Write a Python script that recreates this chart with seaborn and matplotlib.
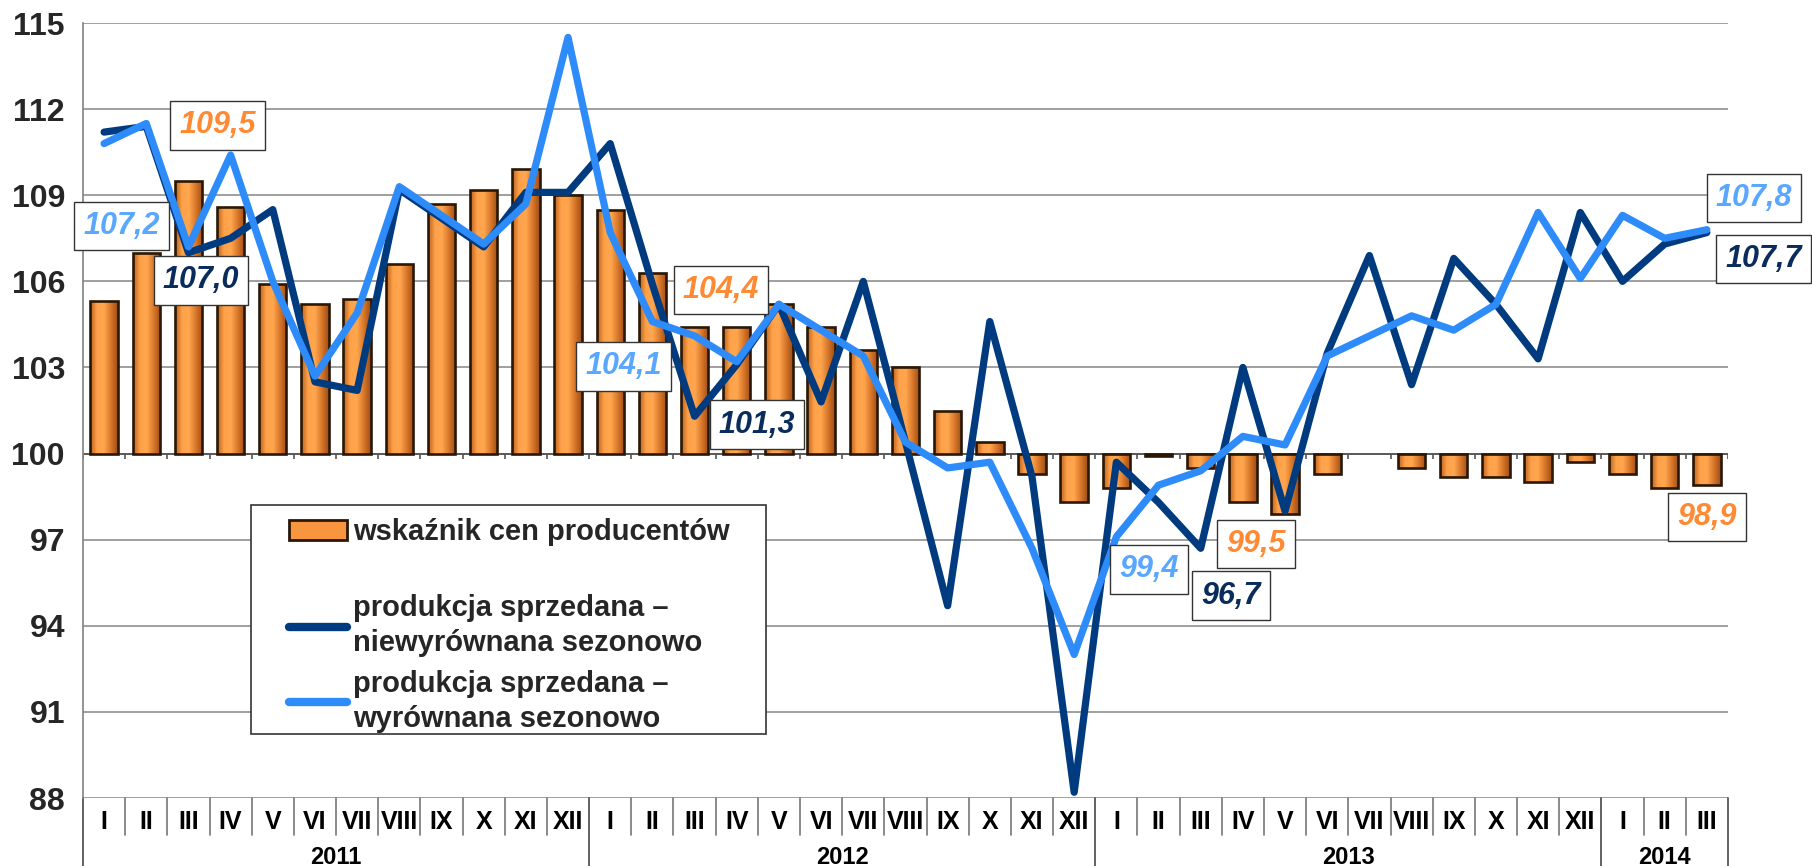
import numpy as np
import pandas as pd
import matplotlib
matplotlib.use("Agg")
import matplotlib.pyplot as plt
import seaborn as sns
from matplotlib.patches import Patch, Rectangle
from matplotlib.lines import Line2D
from matplotlib.colors import LinearSegmentedColormap
import matplotlib.transforms as mtransforms

# Month labels and years (2011 I - 2014 III)
months = ["I", "II", "III", "IV", "V", "VI", "VII", "VIII", "IX", "X", "XI", "XII"] * 3 + ["I", "II", "III"]
years = ["2011", "2012", "2013", "2014"]
year_lengths = [12, 12, 12, 3]

# Producer price index (bars, base 100)
ppi = [105.3, 107.0, 109.5, 108.6, 105.9, 105.2, 105.4, 106.6, 108.7, 109.2, 109.9, 109.0,
       108.5, 106.3, 104.4, 104.4, 105.2, 104.4, 103.6, 103.0, 101.5, 100.4, 99.3, 98.3,
       98.8, 99.9, 99.5, 98.3, 97.9, 99.3, 100.0, 99.5, 99.2, 99.2, 99.0, 99.7,
       99.3, 98.8, 98.9]

# Sold production - not seasonally adjusted
prod_nsa = [111.2, 111.4, 107.0, 107.5, 108.5, 102.5, 102.2, 109.2, 108.2, 107.2, 109.1, 109.1,
            110.8, 105.9, 101.3, 103.1, 105.2, 101.8, 106.0, 100.4, 94.7, 104.6, 99.2, 88.2,
            99.7, 98.3, 96.7, 103.0, 98.0, 103.5, 106.9, 102.4, 106.8, 105.2, 103.3, 108.4,
            106.0, 107.3, 107.7]

# Sold production - seasonally adjusted
prod_sa = [110.8, 111.5, 107.2, 110.4, 106.0, 102.7, 104.9, 109.3, 108.3, 107.3, 108.7, 114.5,
           107.7, 104.6, 104.1, 103.2, 105.2, 104.3, 103.4, 100.4, 99.5, 99.7, 96.7, 93.0,
           97.1, 98.9, 99.4, 100.6, 100.3, 103.4, 104.1, 104.8, 104.3, 105.2, 108.4, 106.1,
           108.3, 107.5, 107.8]

# Months that get a value label (each March)
label_idx = [2, 14, 26, 38]

orange = "#F7963F"
orange_txt = "#FF8A33"
navy = "#003B80"
navy_txt = "#0A2C5C"
light = "#2E8BFA"
light_txt = "#5AA7FF"

sns.set_style("white")
plt.rcParams["font.family"] = ["Liberation Sans", "DejaVu Sans"]
plt.rcParams["font.weight"] = "bold"

df = pd.DataFrame({
    "idx": np.arange(len(months)),
    "ppi": ppi,
    "ppi_dev": np.array(ppi) - 100,
    "nsa": prod_nsa,
    "sa": prod_sa,
})

fig = plt.figure(figsize=(18.12, 8.66), dpi=100)
ax = fig.add_axes([0.0458, 0.0785, 0.9078, 0.8949])

# Bars grow from the 100 line
sns.barplot(data=df, x="idx", y="ppi_dev", bottom=100, color=orange, saturation=1,
            width=0.65, edgecolor="#2a1705", linewidth=1.9, ax=ax, zorder=3)

# horizontal shading on the bars, a bit like the original 3D look
shade = LinearSegmentedColormap.from_list("shade", ["#B9601C", "#FFA24A", "#FFA64F", "#D9772A", "#9C4E14"])
grad = np.linspace(0, 1, 64).reshape(1, -1)
for p in list(ax.patches):
    x0, y0 = p.get_x(), p.get_y()
    w, h = p.get_width(), p.get_height()
    if abs(h) < 1e-9:
        p.set_linewidth(0)
        continue
    im = ax.imshow(grad, cmap=shade, aspect="auto", extent=[x0, x0 + w, min(y0, y0 + h), max(y0, y0 + h)],
                   zorder=2.9, interpolation="bilinear")
    im.set_clip_path(p)
    p.set_facecolor("none")

sns.lineplot(data=df, x="idx", y="nsa", color=navy, linewidth=5.2, ax=ax, zorder=4,
             solid_joinstyle="round", solid_capstyle="round")
sns.lineplot(data=df, x="idx", y="sa", color=light, linewidth=5.2, ax=ax, zorder=5,
             solid_joinstyle="round", solid_capstyle="round")

n = len(months)
ax.set_xlim(-0.5, n - 0.5)
ax.set_ylim(88, 115)
ax.set_yticks(np.arange(88, 116, 3))
ax.set_yticklabels([str(v) for v in range(88, 116, 3)], fontsize=23, fontweight="bold")
ax.tick_params(axis="y", length=6, width=1, color="#808080", pad=7)
ax.set_xticks([])
ax.set_xlabel("")
ax.set_ylabel("")
ax.yaxis.grid(True, color="#8f8f8f", linewidth=1.2, zorder=0)
ax.set_axisbelow(True)
for s in ["top", "right", "bottom"]:
    ax.spines[s].set_visible(False)
ax.spines["left"].set_color("#808080")
ax.spines["left"].set_linewidth(1.2)

# The horizontal axis crosses at 100, with small tick marks
ax.axhline(100, color="#555555", linewidth=1.3, zorder=2)
bounds = np.arange(-0.5, n, 1.0)
ax.vlines(bounds, 99.82, 100, color="#555555", linewidth=1.2, zorder=2)

# Category table under the plot
trans = mtransforms.blended_transform_factory(ax.transData, ax.transAxes)
year_bounds = np.concatenate([[0], np.cumsum(year_lengths)]) - 0.5
for b in bounds:
    if b in year_bounds:
        ax.plot([b, b], [0, -0.12], transform=trans, color="#555555", lw=1.3, clip_on=False)
    else:
        ax.plot([b, b], [0, -0.048], transform=trans, color="#777777", lw=1.2, clip_on=False)
for i, m in enumerate(months):
    ax.text(i, -0.031, m, transform=trans, ha="center", va="center", fontsize=18,
            fontweight="bold", color="black")
start = 0
for y, ln in zip(years, year_lengths):
    ax.text(start + (ln - 1) / 2, -0.077, y, transform=trans, ha="center", va="center",
            fontsize=17, fontweight="bold", color="black")
    start += ln


# Value labels in white boxes
def fmt(v):
    return f"{v:.1f}".replace(".", ",")


def put_label(i, series, color, offset):
    ax.annotate(fmt(series[i]), xy=(i, series[i]), xytext=offset, textcoords="offset points",
                ha="center", va="center", fontsize=22, fontweight="bold", fontstyle="italic",
                color=color, zorder=10,
                bbox=dict(boxstyle="square,pad=0.3", facecolor="white", edgecolor="#333333",
                          linewidth=1.0))


ppi_offsets = [(21, 40), (19, 27), (40, -55), (0, -23)]
nsa_offsets = [(9, -20), (45, -6), (22, -34), (41, -19)]
sa_offsets = [(-48, 15), (-51, -22), (-37, -71), (34, 23)]
for k, i in enumerate(label_idx):
    put_label(i, ppi, orange_txt, ppi_offsets[k])
    put_label(i, prod_nsa, navy_txt, nsa_offsets[k])
    put_label(i, prod_sa, light_txt, sa_offsets[k])

# Legend: white box drawn separately, entries on top of it
ax.add_patch(Rectangle((0.1021, 0.0826), 0.3131, 0.2954, transform=ax.transAxes,
                       facecolor="white", edgecolor="#333333", linewidth=1.2, zorder=7.5,
                       clip_on=False))
handles = [
    Patch(facecolor=orange, edgecolor="#2a1705", linewidth=2),
    Line2D([], [], alpha=0),
    Line2D([], [], color=navy, linewidth=6, solid_capstyle="round"),
    Line2D([], [], color=light, linewidth=6, solid_capstyle="round"),
]
labels = [
    "wskaźnik cen producentów",
    " ",
    "produkcja sprzedana –\nniewyrównana sezonowo",
    "produkcja sprzedana –\nwyrównana sezonowo",
]
leg = ax.legend(handles, labels, loc="upper left", bbox_to_anchor=(0.1173, 0.378),
                frameon=False, prop={"size": 21, "weight": "bold"},
                handlelength=2.0, handleheight=0.65, handletextpad=0.2,
                labelspacing=0.45, borderpad=0.45, borderaxespad=0)
texts = leg.get_texts()
texts[1].set_fontsize(6)
for t in texts:
    t.set_linespacing(1.3)
leg.set_zorder(8)

fig.savefig("out.png", dpi=100)
